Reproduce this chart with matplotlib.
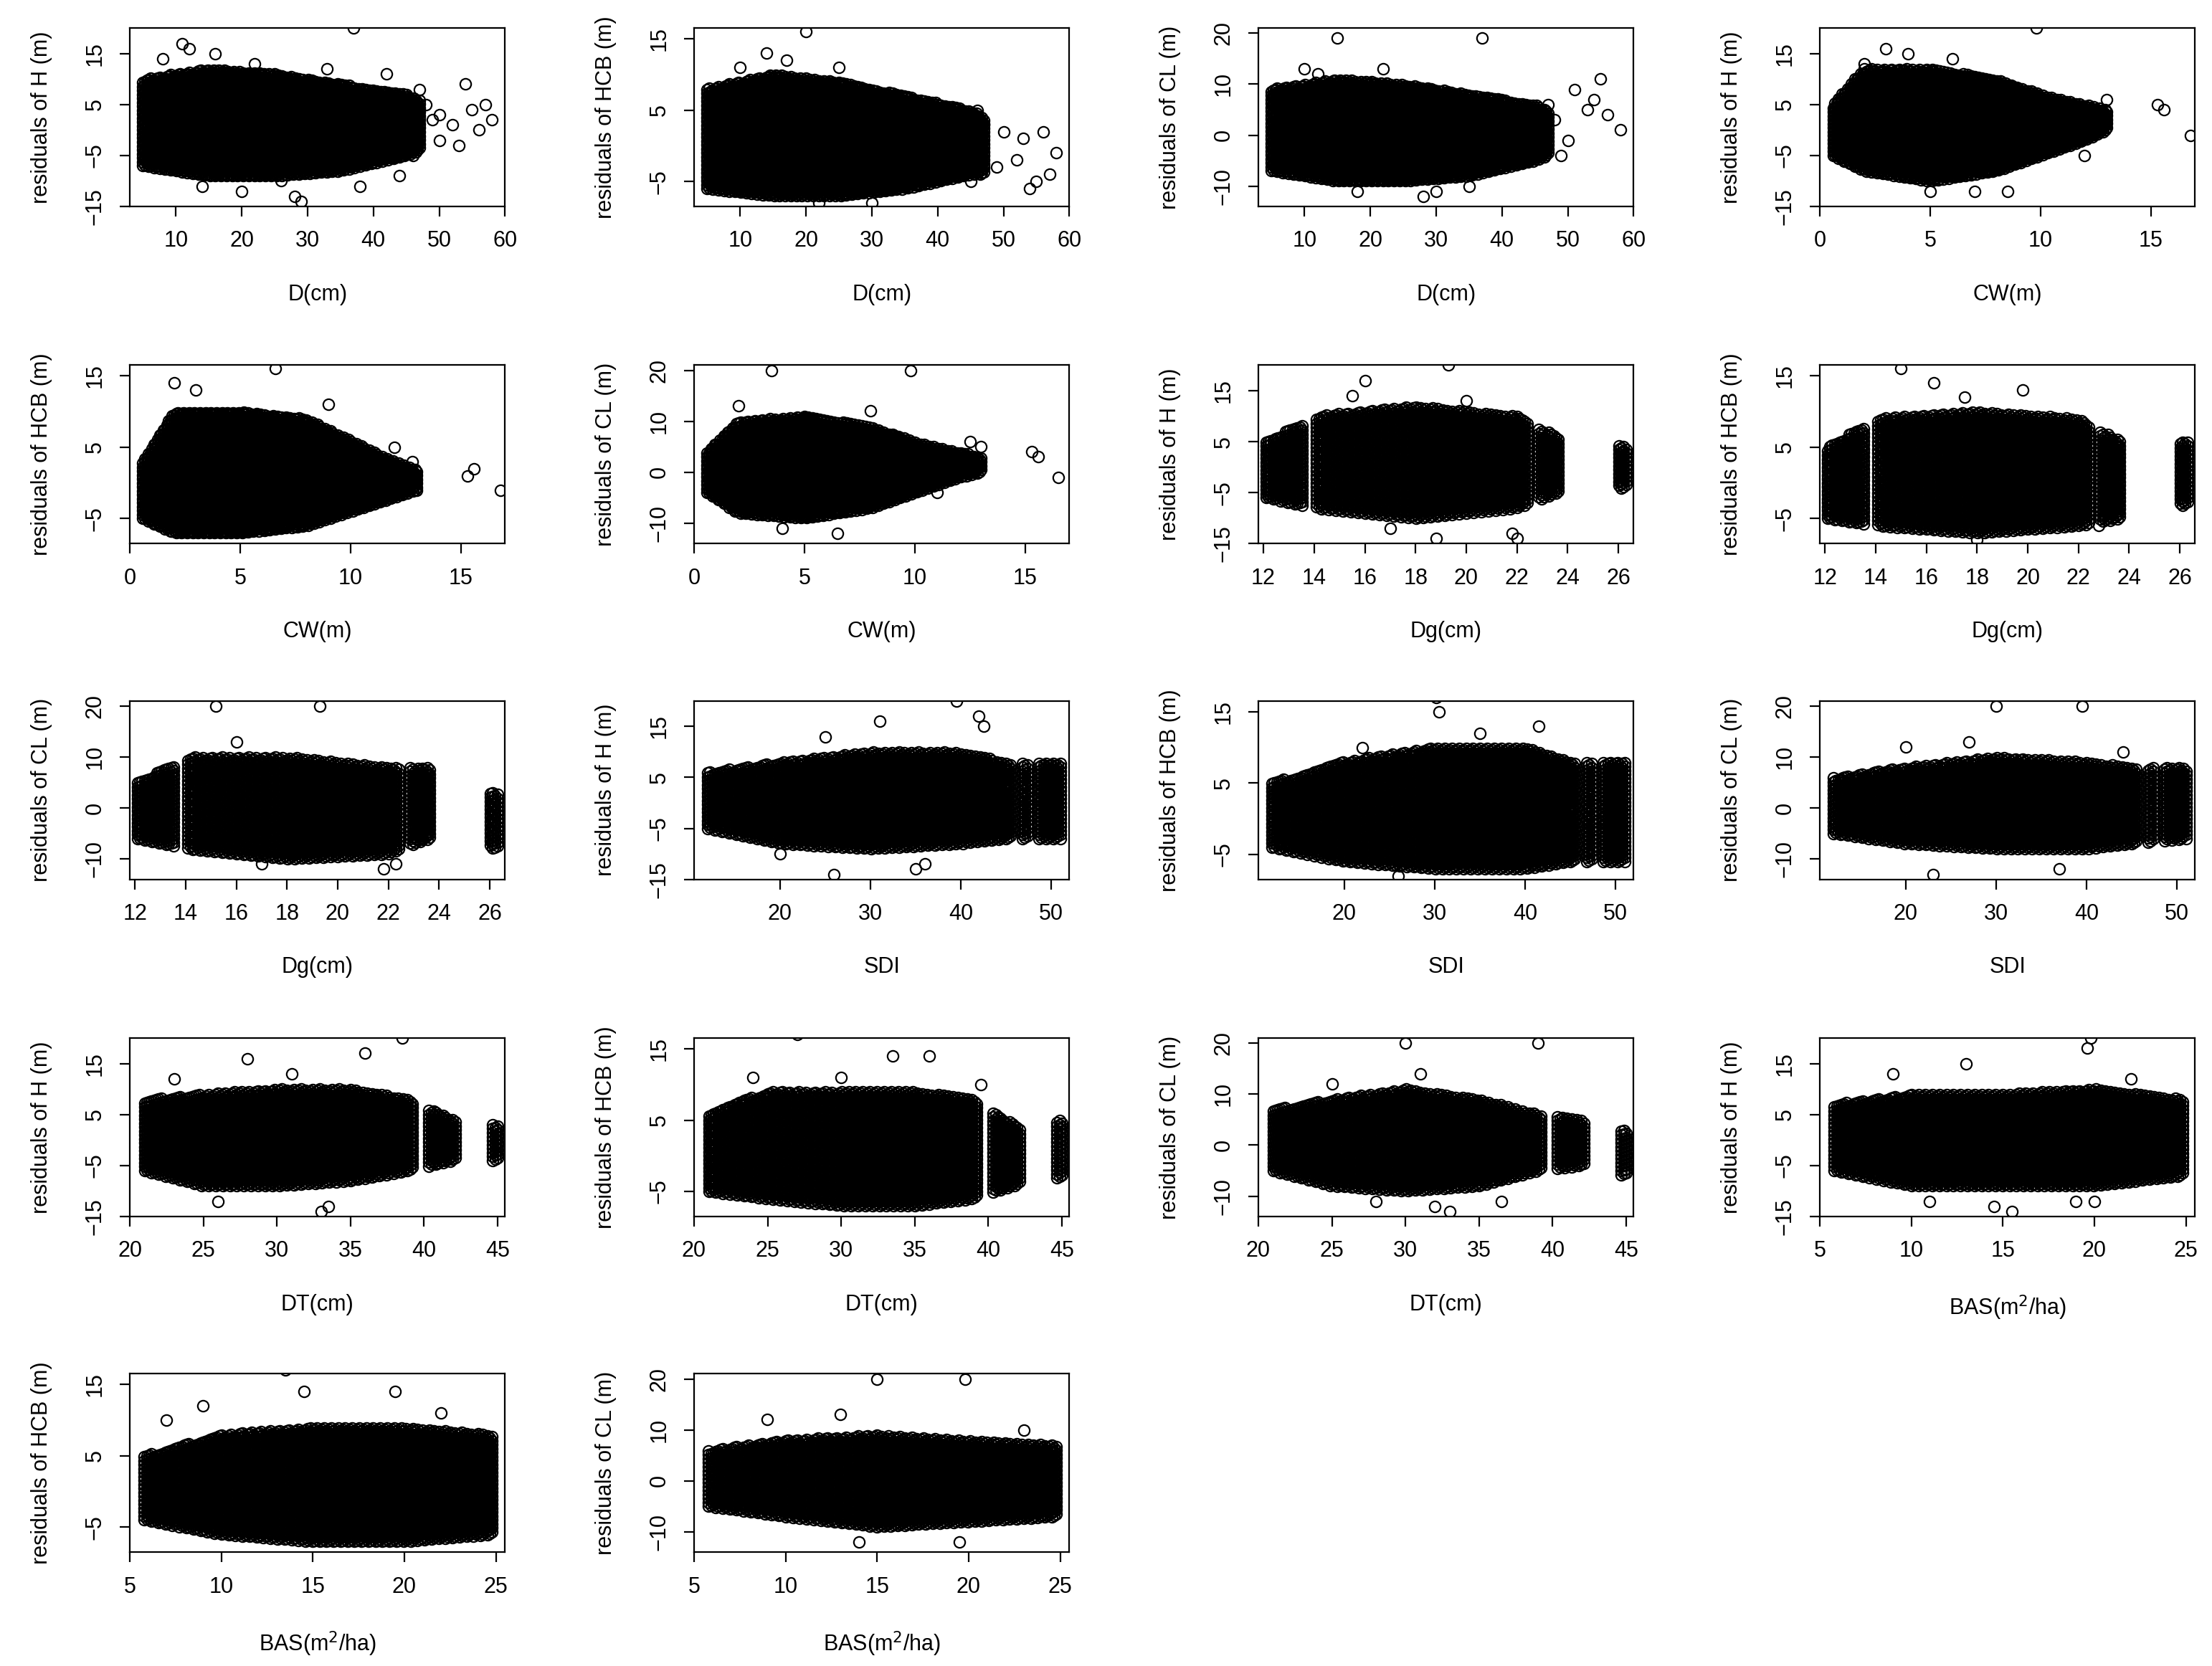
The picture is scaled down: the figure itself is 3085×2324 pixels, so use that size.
import numpy as np
import matplotlib
matplotlib.use("Agg")
import matplotlib.pyplot as plt

plt.rcParams['font.family'] = ['Liberation Sans', 'DejaVu Sans']

# ---------------- data (envelopes of residual clouds) ----
D_x = [5, 15, 25, 35, 45, 47]
D_H_lo = [-7, -9, -9, -8, -5, -4];  D_H_hi = [10, 12, 11, 9, 7, 6]
D_HCB_lo = [-6, -7, -7, -6, -4, -4]; D_HCB_hi = [8, 10, 9, 7, 5, 4]
D_CL_lo = [-7, -9, -9, -8, -5, -4];  D_CL_hi = [9, 11, 10, 8, 6, 5]

CW_x = [0.6, 2, 5, 8, 10, 12, 13]
CW_H_lo = [-5, -8, -10, -8, -5, -2, 0];  CW_H_hi = [5, 12, 12, 10, 7, 5, 4]
CW_HCB_lo = [-5, -7, -7, -6, -4, -2, -1]; CW_HCB_hi = [3, 10, 10, 9, 6, 3, 2]
CW_CL_lo = [-4, -8, -9, -7, -4, -1, 0];  CW_CL_hi = [4, 10, 11, 9, 6, 4, 3]

Dg_x = [12.1, 14, 18, 22, 23.6, 26.3]
Dg_gaps = [(13.6, 14.1), (22.4, 22.8), (23.7, 26.0)]
Dg_H_lo = [-6, -8, -10, -8, -5, -4];  Dg_H_hi = [5, 10, 12, 10, 6, 4]
Dg_HCB_lo = [-5, -6, -7, -6, -5, -3]; Dg_HCB_hi = [5, 9, 10, 9, 6, 6]
Dg_CL_lo = [-6, -8, -10, -9, -6, -8];  Dg_CL_hi = [5, 10, 10, 8, 8, 3]

SDI_x = [12, 20, 30, 40, 45, 51]
SDI_gaps = [(45.6, 46.6), (47.4, 48.6)]
SDI_H_lo = [-5, -8, -9, -8, -7, -7];  SDI_H_hi = [6, 8, 10, 10, 8, 8]
SDI_HCB_lo = [-4, -6, -7, -7, -6, -6]; SDI_HCB_hi = [5, 8, 10, 10, 8, 8]
SDI_CL_lo = [-5, -7, -8, -8, -7, -6];  SDI_CL_hi = [6, 8, 10, 9, 8, 8]

DT_x = [21, 25, 30, 35, 39, 42, 45]
DT_gaps = [(39.3, 40.3), (42.2, 44.6)]
DT_H_lo = [-6, -9, -9, -8, -6, -4, -4];  DT_H_hi = [8, 9, 10, 10, 8, 4, 3]
DT_HCB_lo = [-5, -6, -7, -7, -6, -4, -3]; DT_HCB_hi = [6, 9, 9, 9, 8, 4, 5]
DT_CL_lo = [-5, -8, -9, -8, -5, -4, -6];  DT_CL_hi = [7, 9, 11, 9, 6, 5, 3]

BAS_x = [5.8, 10, 15, 20, 24.8]
BAS_H_lo = [-6, -9, -9, -9, -7];  BAS_H_hi = [7, 9, 9, 10, 8]
BAS_HCB_lo = [-4, -6, -7, -7, -6]; BAS_HCB_hi = [5, 8, 9, 9, 8]
BAS_CL_lo = [-5, -7, -9, -8, -7];  BAS_CL_hi = [6, 8, 9, 8, 7]

# scattered outlying points (x, y)
out_D_H = [(11, 17), (12, 16), (37, 20), (42, 11), (48, 5), (50, 3), (52, 1), (55, 4), (57, 5), (58, 2), (46, -5), (50, -2), (53, -3), (56, 0), (44, -9), (29, -14), (28, -13), (49, 2), (47, 8), (54, 9), (8, 14), (16, 15), (22, 13), (33, 12), (14, -11), (20, -12), (38, -11), (26, -10)]
out_D_HCB = [(20, 16), (14, 13), (47, 3), (50, 2), (52, -2), (55, -5), (57, -4), (58, -1), (49, -3), (53, 1), (46, 5), (45, -5), (56, 2), (54, -6), (10, 11), (25, 11), (17, 12), (30, -8), (22, -8)]
out_D_CL = [(15, 19), (37, 19), (51, 9), (54, 7), (56, 4), (58, 1), (48, 3), (50, -1), (53, 5), (47, 6), (28, -12), (30, -11), (55, 11), (49, -4), (10, 13), (22, 13), (18, -11), (35, -10), (12, 12)]
out_CW_H = [(9.8, 20), (15.3, 5), (15.6, 4), (16.8, -1), (13, 6), (12, -5), (8.5, -12), (3, 16), (4, 15), (2, 13), (6, 14), (5, -12), (7, -12)]
out_CW_HCB = [(6.6, 16), (15.3, 1), (15.6, 2), (16.8, -1), (12.8, 3), (13, -1), (12, 5), (2, 14), (3, 13), (9, 11)]
out_CW_CL = [(3.5, 20), (9.8, 20), (15.3, 4), (15.6, 3), (16.5, -1), (12.5, 6), (13, 5), (11, -4), (6.5, -12), (2, 13), (8, 12), (4, -11)]
out_Dg_H = [(19.3, 20), (16, 17), (18.8, -14), (21.8, -13), (22, -14), (15.5, 14), (17, -12), (20, 13)]
out_Dg_HCB = [(15, 16), (19.8, 13), (16.3, 14), (22.8, -6), (17.5, 12), (18, -8)]
out_Dg_CL = [(15.2, 20), (19.3, 20), (21.8, -12), (22.3, -11), (16, 13), (17, -11)]
out_SDI_H = [(39.5, 20), (31, 16), (42, 17), (42.5, 15), (26, -14), (35, -13), (36, -12), (25, 13), (20, -10)]
out_SDI_HCB = [(30.2, 17), (30.5, 15), (41.5, 13), (26, -8), (22, 10), (35, 12)]
out_SDI_CL = [(30, 20), (39.5, 20), (27, 13), (37, -12), (23, -13), (20, 12), (44, 11)]
out_DT_H = [(38.5, 20), (36, 17), (28, 16), (33, -14), (33.5, -13), (26, -12), (23, 12), (31, 13)]
out_DT_HCB = [(27, 17), (33.5, 14), (36, 14), (39.5, 10), (24, 11), (30, 11)]
out_DT_CL = [(30, 20), (39, 20), (31, 14), (32, -12), (36.5, -11), (33, -13), (25, 12), (28, -11)]
out_BAS_H = [(19.8, 20), (19.6, 18), (13, 15), (19, -12), (20, -12), (15.5, -14), (14.5, -13), (9, 13), (22, 12), (11, -12)]
out_BAS_HCB = [(13.5, 17), (14.5, 14), (19.5, 14), (9, 12), (7, 10), (22, 11)]
out_BAS_CL = [(15, 20), (19.8, 20), (13, 13), (14, -12), (19.5, -12), (9, 12), (23, 10)]

# ---------------- panel definitions ------------------------------------
XL = {'D': ('D(cm)', (3, 60), [10, 20, 30, 40, 50, 60], D_x, None),
      'CW': ('CW(m)', (0, 17), [0, 5, 10, 15], CW_x, None),
      'Dg': ('Dg(cm)', (11.8, 26.6), list(range(12, 27, 2)), Dg_x, Dg_gaps),
      'SDI': ('SDI', (10.5, 52), [20, 30, 40, 50], SDI_x, SDI_gaps),
      'DT': ('DT(cm)', (20.5, 45.5), [20, 25, 30, 35, 40, 45], DT_x, DT_gaps),
      'BAS': ('BAS(m$^2$/ha)', (5, 25.5), [5, 10, 15, 20, 25], BAS_x, None)}
YL = {'H': ('residuals of H (m)', (-15, 20), [-15, -5, 5, 15]),
      'HCB': ('residuals of HCB (m)', (-8.5, 16.5), [-5, 5, 15]),
      'CL': ('residuals of CL (m)', (-14, 21), [-10, 0, 10, 20])}

panels = [('D', 'H', D_H_lo, D_H_hi, out_D_H), ('D', 'HCB', D_HCB_lo, D_HCB_hi, out_D_HCB),
          ('D', 'CL', D_CL_lo, D_CL_hi, out_D_CL), ('CW', 'H', CW_H_lo, CW_H_hi, out_CW_H),
          ('CW', 'HCB', CW_HCB_lo, CW_HCB_hi, out_CW_HCB), ('CW', 'CL', CW_CL_lo, CW_CL_hi, out_CW_CL),
          ('Dg', 'H', Dg_H_lo, Dg_H_hi, out_Dg_H), ('Dg', 'HCB', Dg_HCB_lo, Dg_HCB_hi, out_Dg_HCB),
          ('Dg', 'CL', Dg_CL_lo, Dg_CL_hi, out_Dg_CL), ('SDI', 'H', SDI_H_lo, SDI_H_hi, out_SDI_H),
          ('SDI', 'HCB', SDI_HCB_lo, SDI_HCB_hi, out_SDI_HCB), ('SDI', 'CL', SDI_CL_lo, SDI_CL_hi, out_SDI_CL),
          ('DT', 'H', DT_H_lo, DT_H_hi, out_DT_H), ('DT', 'HCB', DT_HCB_lo, DT_HCB_hi, out_DT_HCB),
          ('DT', 'CL', DT_CL_lo, DT_CL_hi, out_DT_CL), ('BAS', 'H', BAS_H_lo, BAS_H_hi, out_BAS_H),
          ('BAS', 'HCB', BAS_HCB_lo, BAS_HCB_hi, out_BAS_HCB), ('BAS', 'CL', BAS_CL_lo, BAS_CL_hi, out_BAS_CL)]

W, H = 1568.0, 1186.0
col_left = [92, 492, 892, 1290]
row_top = [20, 260, 499, 739, 978]
aw, ah = 266, 127

fig = plt.figure(figsize=(15.425, 11.62), dpi=200)
for i, (xk, yk, lo, hi, outs) in enumerate(panels):
    r, c = divmod(i, 4)
    ax = fig.add_axes([col_left[c] / W, 1 - (row_top[r] + ah) / H, aw / W, ah / H])
    xlab, xlim, xt, xs, gaps = XL[xk]
    ylab, ylim, yt = YL[yk]
    gx = np.linspace(xs[0], xs[-1], 150)
    if gaps:
        keep = np.ones(gx.size, bool)
        for a, b in gaps:
            keep &= ~((gx > a) & (gx < b))
        gx = gx[keep]
    dy = (ylim[1] - ylim[0]) / 45.0
    px, py = [], []
    for j, x in enumerate(gx):
        l = np.interp(x, xs, lo); h = np.interp(x, xs, hi)
        ys = np.arange(l + (j % 3) * dy / 3, h, dy)
        px.extend([x] * len(ys)); py.extend(ys)
    ax.plot(px, py, 'o', mfc='none', mec='black', ms=5.5, mew=0.8)
    ox = [p[0] for p in outs]; oy = [p[1] for p in outs]
    ax.plot(ox, oy, 'o', mfc='none', mec='black', ms=5.5, mew=0.8)
    ax.set_xlim(*xlim); ax.set_ylim(*ylim)
    ax.set_xticks(xt); ax.set_yticks(yt)
    ax.tick_params(labelsize=11, length=5, width=0.8, pad=7)
    for t in ax.get_yticklabels():
        t.set_rotation(90); t.set_va('center')
    ax.set_xlabel(xlab, fontsize=11, labelpad=16)
    ax.set_ylabel(ylab, fontsize=11, labelpad=16)
    for s in ax.spines.values():
        s.set_linewidth(0.8)

fig.savefig('out.png', dpi=200)
